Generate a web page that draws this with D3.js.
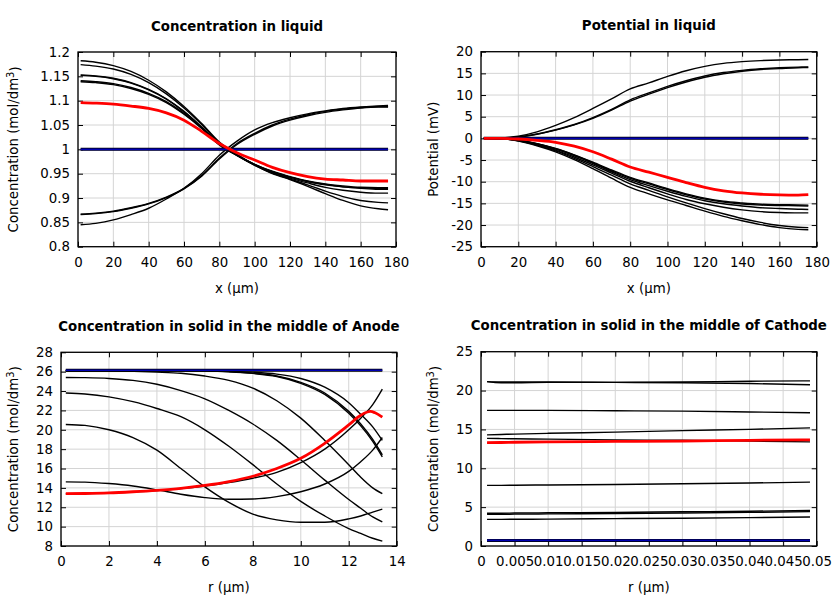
<!DOCTYPE html>
<html><head><meta charset="utf-8">
<script src="https://cdn.jsdelivr.net/npm/d3@7/dist/d3.min.js"></script>
<style>body{margin:0;background:#fff}svg{display:block}text{font-family:"DejaVu Sans",sans-serif}</style>
</head><body><svg id="c" width="840" height="600"></svg>
<script>
// ---------- Panel 1: Concentration in liquid ----------
const liqX = [1.5,10,20,30,40,50,60,70,80,90,100,110,120,130,140,150,160,170,175.5];
const concLiqBlack = [
  [1.182,1.179,1.172,1.160,1.142,1.118,1.088,1.053,1.015,0.990,0.968,0.950,0.938,0.924,0.909,0.895,0.884,0.878,0.876],
  [1.174,1.171,1.165,1.154,1.137,1.114,1.085,1.051,1.013,0.988,0.967,0.951,0.939,0.927,0.914,0.903,0.895,0.891,0.890],
  [1.153,1.151,1.146,1.137,1.123,1.104,1.078,1.046,1.011,0.988,0.968,0.953,0.941,0.931,0.922,0.916,0.912,0.910,0.910],
  [1.152,1.150,1.145,1.136,1.122,1.103,1.077,1.045,1.011,0.988,0.969,0.954,0.943,0.934,0.927,0.923,0.921,0.920,0.920],
  [1.141,1.139,1.135,1.127,1.115,1.098,1.074,1.044,1.010,0.988,0.969,0.955,0.944,0.935,0.929,0.925,0.922,0.921,0.921],
  [1.139,1.137,1.133,1.125,1.113,1.096,1.072,1.043,1.009,0.987,0.968,0.954,0.943,0.934,0.928,0.923,0.920,0.918,0.918],
  [0.867,0.869,0.873,0.880,0.889,0.902,0.920,0.946,0.982,1.012,1.033,1.050,1.062,1.071,1.078,1.083,1.086,1.088,1.088],
  [0.866,0.868,0.872,0.879,0.888,0.901,0.919,0.945,0.980,1.010,1.031,1.048,1.060,1.069,1.076,1.081,1.085,1.087,1.087],
  [0.845,0.848,0.855,0.866,0.879,0.898,0.920,0.950,0.988,1.017,1.040,1.055,1.065,1.073,1.079,1.084,1.087,1.089,1.090]
];
const concLiqRed  = [1.096,1.095,1.093,1.089,1.084,1.075,1.060,1.037,1.012,0.993,0.978,0.963,0.952,0.944,0.939,0.937,0.935,0.935,0.935];
const concLiqBlue = [1,1,1,1,1,1,1,1,1,1,1,1,1,1,1,1,1,1,1];
const concLiqYTicks = [0.8,0.85,0.9,0.95,1,1.05,1.1,1.15,1.2];
const liqXTicks = [0,20,40,60,80,100,120,140,160,180];

// ---------- Panel 2: Potential in liquid ----------
const potBlack = [
  [0,0.10,0.50,1.5,3.0,4.8,6.9,9.1,11.4,12.8,14.3,15.6,16.6,17.3,17.7,17.95,18.1,18.15,18.2],
  [0,0.05,0.30,1.0,2.0,3.2,4.8,6.7,8.9,10.5,12.0,13.3,14.4,15.2,15.7,16.05,16.3,16.45,16.5],
  [0,0.05,0.28,0.95,1.9,3.1,4.6,6.5,8.6,10.2,11.7,13.0,14.1,14.9,15.5,15.9,16.1,16.3,16.35],
  [0,-0.05,-0.40,-1.2,-2.3,-3.8,-5.5,-7.3,-9.0,-10.3,-11.6,-12.8,-13.8,-14.5,-14.9,-15.2,-15.3,-15.35,-15.4],
  [0,-0.05,-0.42,-1.25,-2.4,-3.9,-5.65,-7.5,-9.2,-10.5,-11.8,-13.0,-14.0,-14.7,-15.15,-15.4,-15.5,-15.55,-15.6],
  [0,-0.05,-0.45,-1.3,-2.5,-4.0,-5.8,-7.7,-9.5,-10.9,-12.2,-13.4,-14.4,-15.1,-15.6,-16.0,-16.2,-16.35,-16.4],
  [0,-0.06,-0.50,-1.4,-2.7,-4.3,-6.1,-8.0,-9.9,-11.4,-12.8,-14.1,-15.1,-15.9,-16.5,-16.9,-17.1,-17.2,-17.2],
  [0,-0.07,-0.55,-1.55,-2.9,-4.6,-6.5,-8.5,-10.5,-12.0,-13.5,-14.9,-16.2,-17.4,-18.5,-19.4,-20.1,-20.5,-20.6],
  [0,-0.08,-0.60,-1.7,-3.1,-4.9,-7.0,-9.2,-11.3,-12.8,-14.2,-15.5,-16.8,-18.0,-19.0,-19.9,-20.6,-21.0,-21.1]
];
const potRed  = [0,0,-0.15,-0.45,-0.9,-1.8,-3.1,-4.8,-6.6,-7.8,-9.0,-10.2,-11.3,-12.1,-12.6,-12.9,-13.05,-13.1,-13.0];
const potBlue = [0,0,0,0,0,0,0,0,0,0,0,0,0,0,0,0,0,0,0];
const potYTicks = [-25,-20,-15,-10,-5,0,5,10,15,20];

// ---------- Panel 3: Anode solid ----------
const anodeR = [0.2,1,2,3,4,5,6,7,8,9,10,11,12,12.5,13,13.4];
const anodeBlack = [
  [26.1,26.1,26.1,26.1,26.1,26.1,26.08,26.0,25.85,25.55,24.9,23.8,21.9,20.6,19.0,17.4],
  [26.12,26.12,26.12,26.12,26.12,26.11,26.08,25.99,25.82,25.5,24.8,23.65,21.7,20.4,18.8,17.2],
  [26.1,26.1,26.1,26.1,26.1,26.1,26.09,26.04,25.95,25.75,25.3,24.4,22.8,21.6,20.3,18.9],
  [26.1,26.1,26.08,26.03,25.95,25.83,25.55,25.1,24.3,23.0,21.2,18.9,16.4,15.1,14.0,13.4],
  [25.4,25.38,25.3,25.1,24.7,24.05,23.2,22.0,20.6,18.9,16.9,14.8,12.8,11.9,11.0,10.5],
  [23.8,23.7,23.4,22.9,22.2,21.35,20.0,18.3,16.4,14.4,12.6,11.1,9.8,9.3,8.8,8.5],
  [20.55,20.45,20.0,19.2,17.9,16.0,14.1,12.5,11.3,10.7,10.45,10.45,10.8,11.1,11.5,11.8],
  [14.62,14.6,14.45,14.2,13.8,13.35,13.0,12.82,12.85,13.1,13.6,14.4,15.7,16.7,17.9,19.2],
  [13.4,13.42,13.48,13.58,13.72,13.92,14.2,14.55,15.0,15.6,16.6,18.0,20.0,21.2,22.6,24.2]
];
const anodeRedR = [0.2,1,2,3,4,5,6,7,8,9,10,11,12,12.5,12.9,13.1,13.4];
const anodeRed  = [13.4,13.42,13.48,13.6,13.75,13.95,14.25,14.65,15.2,16.0,17.05,18.6,20.5,21.5,21.9,21.75,21.3];
const anodeBlue = [26.15,26.15,26.15,26.15,26.15,26.15,26.15,26.15,26.15,26.15,26.15,26.15,26.15,26.15,26.15,26.15];
const anodeXTicks = [0,2,4,6,8,10,12,14];
const anodeYTicks = [8,10,12,14,16,18,20,22,24,26,28];

// ---------- Panel 4: Cathode solid ----------
const cathR = [0.0009,0.003,0.005,0.01,0.02,0.03,0.04,0.049];
const cathBlack = [
  [21.15,21.0,21.0,21.05,21.05,21.1,21.2,21.25],
  [21.15,21.1,21.1,21.1,21.05,21.0,20.9,20.75],
  [17.45,17.45,17.45,17.45,17.4,17.35,17.25,17.15],
  [14.3,14.35,14.4,14.5,14.65,14.85,15.0,15.2],
  [13.85,13.82,13.8,13.75,13.65,13.6,13.5,13.4],
  [7.8,7.8,7.82,7.85,7.92,8.0,8.1,8.22],
  [4.22,4.22,4.24,4.27,4.32,4.4,4.47,4.57],
  [4.08,4.08,4.1,4.13,4.18,4.25,4.33,4.42],
  [3.43,3.43,3.44,3.46,3.52,3.58,3.65,3.73]
];
const cathRed  = [13.3,13.32,13.35,13.4,13.45,13.5,13.6,13.65];
const cathBlue = [0.72,0.72,0.72,0.72,0.72,0.72,0.72,0.72];
const cathXTicks = [0,0.005,0.01,0.015,0.02,0.025,0.03,0.035,0.04,0.045,0.05];
const cathYTicks = [0,5,10,15,20,25];

// ---------- drawing ----------
const svg = d3.select("#c");
const FS = 13.33;

function panel(cfg){
  const x = d3.scaleLinear().domain(cfg.xd).range([cfg.l, cfg.r]);
  const y = d3.scaleLinear().domain(cfg.yd).range([cfg.b, cfg.t]);
  const g = svg.append("g");
  // grid
  g.append("g").selectAll("line").data(cfg.xt).join("line")
    .attr("x1", d=>x(d)).attr("x2", d=>x(d)).attr("y1", cfg.t).attr("y2", cfg.b)
    .attr("stroke", "#d4d4d4").attr("stroke-width", 1);
  g.append("g").selectAll("line").data(cfg.yt).join("line")
    .attr("y1", d=>y(d)).attr("y2", d=>y(d)).attr("x1", cfg.l).attr("x2", cfg.r)
    .attr("stroke", "#d4d4d4").attr("stroke-width", 1);
  // axes (ticks inward, mirrored)
  const fmt = d => String(+d.toFixed(4));
  const axB = d3.axisBottom(x).tickValues(cfg.xt).tickSize(-5).tickPadding(11).tickFormat(fmt);
  const axT = d3.axisTop(x).tickValues(cfg.xt).tickSize(-5).tickFormat("");
  const axL = d3.axisLeft(y).tickValues(cfg.yt).tickSize(-5).tickPadding(8).tickFormat(fmt);
  const axR = d3.axisRight(y).tickValues(cfg.yt).tickSize(-5).tickFormat("");
  [[axB,`translate(0,${cfg.b})`],[axT,`translate(0,${cfg.t})`],[axL,`translate(${cfg.l},0)`],[axR,`translate(${cfg.r},0)`]]
   .forEach(([a,tr])=>{
     const ag = g.append("g").attr("transform", tr).call(a);
     ag.select(".domain").remove();
     ag.selectAll("line").attr("stroke","#000").attr("stroke-width",1);
     ag.selectAll("text").attr("font-size", FS).attr("fill","#000").attr("font-family","DejaVu Sans");
   });
  g.append("rect").attr("x", cfg.l).attr("y", cfg.t).attr("width", cfg.r-cfg.l).attr("height", cfg.b-cfg.t)
    .attr("fill","none").attr("stroke","#000").attr("stroke-width",1.3);
  // lines
  const line = xs => d3.line().x((d,i)=>x(xs[i])).y(d=>y(d)).curve(d3.curveMonotoneX);
  cfg.black.forEach(s => g.append("path").attr("d", line(cfg.xs)(s)).attr("fill","none")
      .attr("stroke","#000").attr("stroke-width",1.4));
  g.append("path").attr("d", line(cfg.xs)(cfg.blue)).attr("fill","none").attr("stroke","#000").attr("stroke-width",3);
  g.append("path").attr("d", line(cfg.xs)(cfg.blue)).attr("fill","none").attr("stroke","#0000b4").attr("stroke-width",1.6);
  g.append("path").attr("d", line(cfg.redX || cfg.xs)(cfg.red)).attr("fill","none").attr("stroke","#ff0000").attr("stroke-width",2.8);
  // texts
  svg.append("text").attr("x",(cfg.l+cfg.r)/2).attr("y",cfg.t-21.5).attr("text-anchor","middle")
    .attr("font-size",FS).attr("font-weight","bold").text(cfg.title);
  svg.append("text").attr("x",(cfg.l+cfg.r)/2).attr("y",cfg.b+46).attr("text-anchor","middle")
    .attr("font-size",FS).text(cfg.xlab);
  const yl = svg.append("text").attr("transform",`translate(${cfg.ylx},${(cfg.t+cfg.b)/2}) rotate(-90)`)
    .attr("text-anchor","middle").attr("font-size",FS);
  if (cfg.sup) {
    yl.append("tspan").text("Concentration (mol/dm");
    yl.append("tspan").attr("dy","-0.45em").attr("font-size",FS*0.75).text("3");
    yl.append("tspan").attr("dy","0.45em").text(")");
  } else yl.text(cfg.ylab);
}

panel({l:78,r:396,t:52,b:246.7,xd:[0,180],yd:[0.8,1.2],xt:liqXTicks,yt:concLiqYTicks,
  xs:liqX,black:concLiqBlack,red:concLiqRed,blue:concLiqBlue,
  title:"Concentration in liquid",xlab:"x (µm)",sup:true,ylx:18});
panel({l:481,r:816.7,t:51.7,b:246.7,xd:[0,180],yd:[-25,20],xt:liqXTicks,yt:potYTicks,
  xs:liqX,black:potBlack,red:potRed,blue:potBlue,
  title:"Potential in liquid",xlab:"x (µm)",ylab:"Potential (mV)",ylx:438});
panel({l:61,r:396.7,t:352.3,b:546,xd:[0,14],yd:[8,28],xt:anodeXTicks,yt:anodeYTicks,
  xs:anodeR,black:anodeBlack,red:anodeRed,redX:anodeRedR,blue:anodeBlue,
  title:"Concentration in solid in the middle of Anode",xlab:"r (µm)",sup:true,ylx:18});
panel({l:481,r:816.7,t:351.7,b:546,xd:[0,0.05],yd:[0,25],xt:cathXTicks,yt:cathYTicks,
  xs:cathR,black:cathBlack,red:cathRed,blue:cathBlue,
  title:"Concentration in solid in the middle of Cathode",xlab:"r (µm)",sup:true,ylx:438});
</script></body></html>
